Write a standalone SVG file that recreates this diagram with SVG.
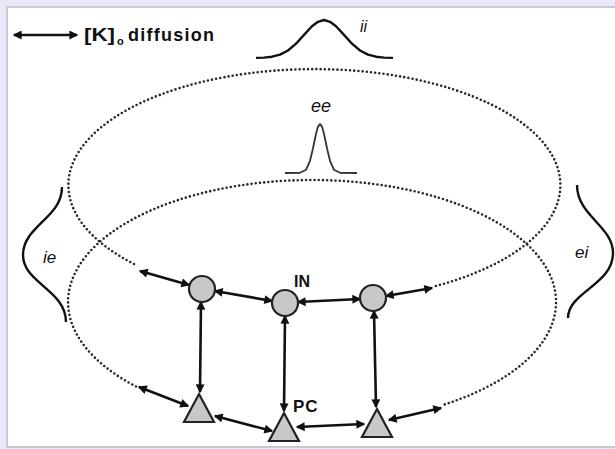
<svg xmlns="http://www.w3.org/2000/svg" width="615" height="449" viewBox="0 0 615 449">
<defs>
<style>
.dot{fill:none;stroke:#2a2a2a;stroke-width:2.6;stroke-dasharray:0 4.2;stroke-linecap:round}
.conn{fill:none;stroke:#111;stroke-width:2.6;marker-start:url(#ah);marker-end:url(#ah)}
.curve{fill:none;stroke:#111;stroke-width:2.4;stroke-linejoin:round}
.cell{fill:#c8c8c8;stroke:#222;stroke-width:2.2}
.lbl{font-family:"Liberation Sans",Arial,sans-serif;fill:#111}
.b{font-weight:bold}
.i{font-style:italic}
</style>
<marker id="ah" viewBox="0 0 10 10" refX="8.5" refY="5" markerWidth="10" markerHeight="9" markerUnits="userSpaceOnUse" orient="auto-start-reverse">
<path d="M0 0 L10 5 L0 10 z" fill="#111"/>
</marker>
</defs>
<rect x="0" y="0" width="615" height="449" fill="#e8e8f8"/>
<rect x="7" y="7" width="612" height="440" fill="#fff" stroke="#c9c9d2" stroke-width="2"/>

<g id="legend">
<line class="conn" x1="14" y1="35" x2="77" y2="35"/>
<text class="lbl b" x="84" y="41" font-size="19" textLength="31" lengthAdjust="spacingAndGlyphs">[K]</text>
<text class="lbl b" x="117" y="45" font-size="11">o</text>
<text class="lbl b" x="128" y="41" font-size="18" textLength="86" lengthAdjust="spacing">diffusion</text>
</g>

<g id="field-ii">
<polyline class="curve" points="256,57.9 264,57.6 272,56.7 280,54.6 288,50.5 296,43.7 304,34.9 312,26.3 318,21.8 324,20 330,21.8 336,26.3 344,34.9 352,43.7 360,50.5 368,54.6 376,56.7 384,57.6 393,57.9"/>
<text class="lbl i" x="360" y="32" font-size="16">ii</text>
</g>

<g id="field-ee">
<polyline class="curve" style="stroke-width:1.8;stroke:#333" points="285,173 300,172.8 306,169.8 310,160.8 313,148.2 316,133.8 318,126.6 320,124 322,126.6 324,133.8 327,148.2 330,160.8 334,169.8 340,172.8 357,173"/>
<text class="lbl i" x="311" y="112" font-size="18">ee</text>
</g>

<g id="field-ie">
<path class="curve" d="M62 187 C62 218 23 226 23 255 C23 283 66 290 66 322"/>
<text class="lbl i" x="43" y="263" font-size="17">ie</text>
</g>

<g id="field-ei">
<path class="curve" d="M577 185 C577 216 613 226 613 253 C613 285 568 292 568 318"/>
<text class="lbl i" x="575" y="258" font-size="17">ei</text>
</g>

<g id="rings">
<path class="dot" d="M134 264 A246 116 0 1 1 432 287"/>
<path class="dot" d="M136 386.5 A244 122 0 1 1 441 405.6"/>
</g>

<g id="connectors">
<line class="conn" x1="140" y1="271" x2="189" y2="285"/>
<line class="conn" x1="215" y1="291" x2="272" y2="301"/>
<line class="conn" x1="298" y1="302" x2="360" y2="299"/>
<line class="conn" x1="386" y1="296" x2="432" y2="288"/>
<line class="conn" x1="201" y1="302" x2="200" y2="392"/>
<line class="conn" x1="285" y1="316" x2="284" y2="411"/>
<line class="conn" x1="374" y1="311" x2="376" y2="407"/>
<line class="conn" x1="139" y1="387" x2="188" y2="406"/>
<line class="conn" x1="215" y1="416" x2="272" y2="431"/>
<line class="conn" x1="297" y1="427" x2="364" y2="424"/>
<line class="conn" x1="389" y1="420" x2="441" y2="408"/>
</g>

<g id="IN1"><circle class="cell" cx="202" cy="289" r="13"/></g>
<g id="IN2"><circle class="cell" cx="285" cy="303" r="13"/>
<text class="lbl b" x="294" y="287" font-size="16">IN</text></g>
<g id="IN3"><circle class="cell" cx="373" cy="298" r="13"/></g>

<g id="PC1"><polygon class="cell" points="199,394 214,422 184,422"/></g>
<g id="PC2"><polygon class="cell" points="284,413 299,441 269,441"/>
<text class="lbl b" x="293" y="412" font-size="17" letter-spacing="1">PC</text></g>
<g id="PC3"><polygon class="cell" points="377,409 392,437 362,437"/></g>
</svg>
